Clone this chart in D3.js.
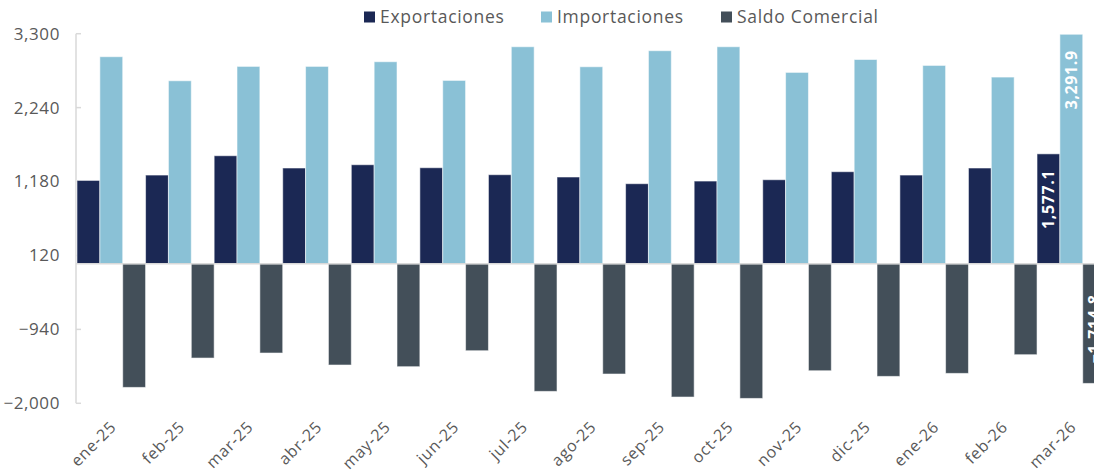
<!DOCTYPE html>
<html lang="es">
<head>
<meta charset="UTF-8">
<title>Balanza comercial</title>
<script src="https://cdnjs.cloudflare.com/ajax/libs/d3/7.8.5/d3.min.js"></script>
<style>
    body { margin: 0; background: #fff; overflow: hidden; }
    svg { display: block; font-family: "Open Sans", sans-serif; }
    .tick-label { fill: #595959; font-size: 17px; letter-spacing: 0.6px; }
    .x-label { fill: #595959; font-size: 16px; letter-spacing: 0.8px; }
    .legend text { fill: #595959; font-size: 17.5px; letter-spacing: 0.7px; }
    .value-label { fill: #fff; font-size: 16px; font-weight: bold; letter-spacing: 0.6px; }
</style>
</head>
<body>
<div id="chart"></div>
<script>
    const width = 1094;
    const height = 473;

    const months = ["ene-25", "feb-25", "mar-25", "abr-25", "may-25", "jun-25", "jul-25", "ago-25",
        "sep-25", "oct-25", "nov-25", "dic-25", "ene-26", "feb-26", "mar-26"];
    const exportaciones = [1196, 1273, 1550, 1374, 1421, 1378, 1278, 1245, 1149, 1187, 1206, 1321, 1273, 1374, 1577.1];
    const importaciones = [2970, 2625, 2831, 2831, 2898, 2630, 3113, 2826, 3056, 3113, 2745, 2930, 2845, 2678, 3291.9];
    const saldo = [-1772, -1351, -1279, -1451, -1475, -1246, -1829, -1580, -1910, -1930, -1533, -1614, -1571, -1303, -1714.8];
    const yTicks = [-2000, -940, 120, 1180, 2240, 3300];
    const seriesNames = ["Exportaciones", "Importaciones", "Saldo Comercial"];
    const colors = ["#1b2854", "#8ac1d6", "#434f59"];

    const seriesValues = [exportaciones, importaciones, saldo];

    // rows for the grouped bars
    const rows = months.map((m, i) => ({
        month: m,
        values: seriesNames.map((s, j) => ({ key: s, value: seriesValues[j][i] }))
    }));

    const svg = d3.select("#chart").append("svg")
        .attr("width", width)
        .attr("height", height);

    // plot runs a bit past the right edge, as in the original
    const x0 = d3.scaleBand().domain(months).range([77, 1105.6]).padding(0);
    const x1 = d3.scaleBand().domain(seriesNames).range([0, x0.bandwidth()]).padding(0);
    const y = d3.scaleLinear().domain([-2000, 3300]).range([403.3, 33.7]);
    const color = d3.scaleOrdinal().domain(seriesNames).range(colors);

    // y axis
    const yAxis = svg.append("g");
    yAxis.append("line")
        .attr("x1", 76).attr("x2", 76)
        .attr("y1", y(3300)).attr("y2", y(-2000))
        .attr("stroke", "#d9d9d9").attr("stroke-width", 1.5);
    yAxis.selectAll(".tk").data(yTicks).enter().append("line")
        .attr("x1", 76).attr("x2", 81)
        .attr("y1", d => y(d)).attr("y2", d => y(d))
        .attr("stroke", "#d9d9d9").attr("stroke-width", 1.5);
    yAxis.selectAll("text").data(yTicks).enter().append("text")
        .attr("class", "tick-label")
        .attr("x", 60)
        .attr("y", d => y(d))
        .attr("dy", "0.35em")
        .attr("text-anchor", "end")
        .text(d => d3.format(",")(d));

    // bars
    const groups = svg.append("g").selectAll("g")
        .data(rows).enter().append("g")
        .attr("transform", d => `translate(${x0(d.month)},0)`);

    groups.selectAll("rect")
        .data(d => d.values).enter().append("rect")
        .attr("x", d => x1(d.key))
        .attr("width", x1.bandwidth())
        .attr("y", d => y(Math.max(0, d.value)))
        .attr("height", d => Math.abs(y(d.value) - y(0)))
        .attr("fill", d => color(d.key))
        .attr("stroke", "#ffffff")
        .attr("stroke-opacity", 0.55)
        .attr("stroke-width", 1);

    // baseline at zero
    svg.append("line")
        .attr("x1", 76).attr("x2", width)
        .attr("y1", y(0)).attr("y2", y(0))
        .attr("stroke", "#d9d9d9").attr("stroke-width", 1.5);

    // value labels on last month (inside end, rotated)
    groups.filter(d => d.month === months[months.length - 1])
        .selectAll(".value-label")
        .data(d => d.values).enter().append("text")
        .attr("class", "value-label")
        .attr("transform", d => {
            const cx = x1(d.key) + x1.bandwidth() / 2;
            const ty = d.value >= 0 ? y(d.value) + 16 : y(d.value) - 20;
            return `translate(${cx},${ty}) rotate(-90)`;
        })
        .attr("text-anchor", d => d.value >= 0 ? "end" : "start")
        .attr("dy", "0.35em")
        .text(d => d3.format(",.1f")(d.value));

    // x labels
    svg.append("g").selectAll("text")
        .data(months).enter().append("text")
        .attr("class", "x-label")
        .attr("transform", d => `translate(${x0(d) + x0.bandwidth() / 2 + 2},${424}) rotate(-45)`)
        .attr("text-anchor", "end")
        .attr("dy", "0.35em")
        .text(d => d);

    // legend
    const legendX = [364, 541, 721];
    const legend = svg.append("g").attr("class", "legend")
        .selectAll("g").data(seriesNames).enter().append("g")
        .attr("transform", (d, i) => `translate(${legendX[i]},17)`);
    legend.append("rect")
        .attr("x", 0).attr("y", -5.5)
        .attr("width", 11).attr("height", 11)
        .attr("fill", d => color(d));
    legend.append("text")
        .attr("x", 16)
        .attr("dy", "0.35em")
        .text(d => d);
</script>
</body>
</html>
